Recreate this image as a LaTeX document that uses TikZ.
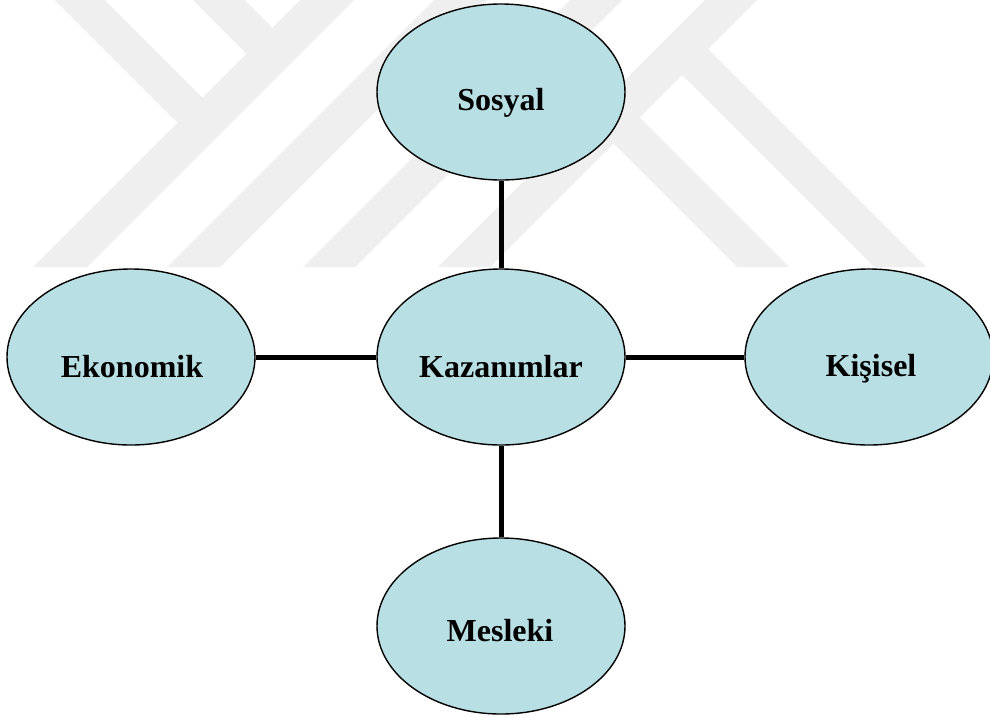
\documentclass[tikz,border=0pt]{standalone}
\usepackage{fontspec}
\setmainfont{Liberation Serif}
\usetikzlibrary{shapes.geometric}
\definecolor{wmgray}{RGB}{239,239,239}
\definecolor{bubble}{RGB}{184,224,228}
\tikzset{
  topic/.style={ellipse, draw=black, line width=1.4pt, fill=bubble,
    minimum width=248pt, minimum height=176pt, inner sep=0pt},
  caption/.style={anchor=base, inner sep=0pt,
    font=\fontsize{32}{38}\selectfont\bfseries},
  link/.style={line width=5pt},
  band/.style={fill=wmgray, draw=none}
}
\begin{document}
\begin{tikzpicture}[x=1pt, y=-1pt]
  \useasboundingbox (0,0) rectangle (990,716);
  \fill[white] (0,0) rectangle (990,716);

  % background emblem: diagonal bands
  % rising bands (x+y constant edges), from the top edge down to y=267
  \foreach \a/\b in {300/354, 434/487, 570/622, 705/757}{
    \path[band] (\a,0) -- (\b,0) -- (\b-267,267) -- (\a-267,267) -- cycle;
  }
  % falling bands hanging from the top onto the first rising band
  \foreach \p/\q in {55/105, 193/245}{
    \path[band] (\p,0) -- (\q,0) -- ({(310+\q)/2},{(310-\q)/2})
      -- ({(310+\p)/2},{(310-\p)/2}) -- cycle;
  }
  % falling bands leaving the last rising band down to the bottom edge
  \foreach \p/\q in {470/522, 607/659}{
    \path[band] ({(747+\p)/2},{(747-\p)/2}) -- ({(747+\q)/2},{(747-\q)/2})
      -- (\q+267,267) -- (\p+267,267) -- cycle;
  }

  % topics
  \node[topic] (soc) at (501,92) {};
  \node[topic] (gain) at (501,357) {};
  \node[topic] (eco) at (131,357) {};
  \node[topic] (pers) at (869,357) {};
  \node[topic] (job) at (501,626) {};

  % connectors
  \draw[link] (soc.south) -- (gain.north);
  \draw[link] (gain.south) -- (job.north);
  \draw[link] (eco.east) -- (gain.west);
  \draw[link] (gain.east) -- (pers.west);

  % labels
  \node[caption] (tsoc) at (501,110.5) {Sosyal};
  \node[caption] (tgain) at (501,377) {Kazanımlar};
  \node[caption] (teco) at (132,377) {Ekonomik};
  \node[caption] (tpers) at (871,376) {Kişisel};
  \node[caption] (tjob) at (500,641) {Mesleki};
\end{tikzpicture}
\end{document}
